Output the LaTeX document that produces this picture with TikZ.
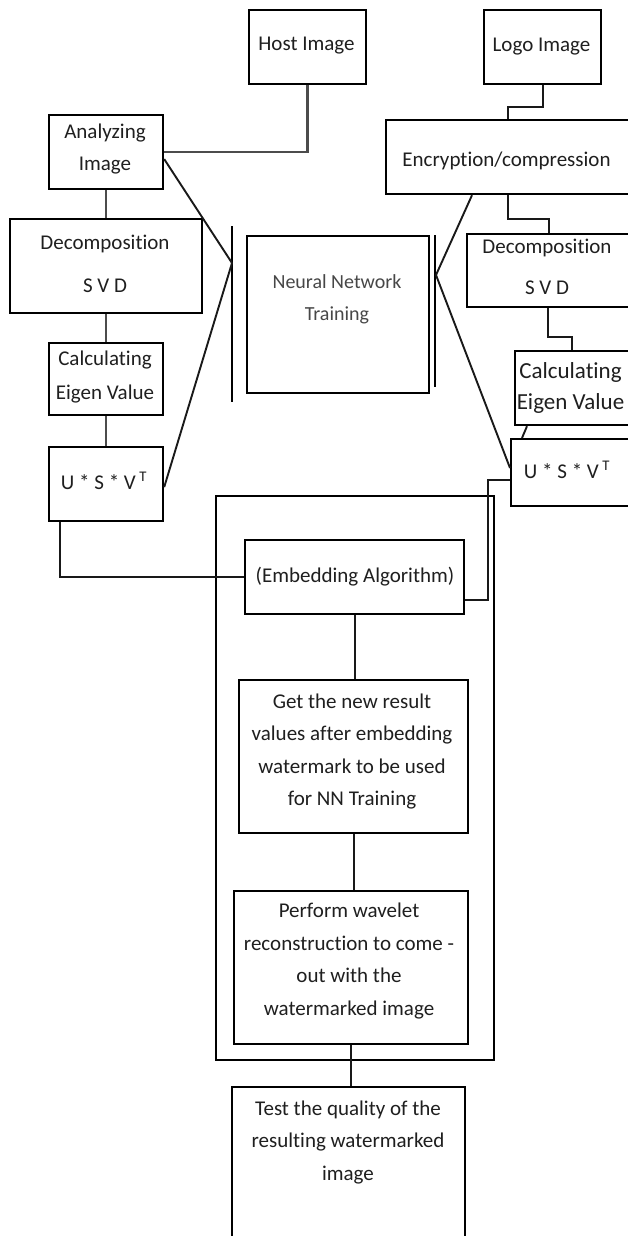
\documentclass[tikz,border=0pt]{standalone}
\usepackage{fontspec}
\setmainfont[Ligatures=CommonOff]{Carlito}
\usetikzlibrary{calc}
\tikzset{
  box/.style={draw=black, line width=2.2pt, inner sep=0pt, anchor=north west},
  txt/.style={align=center, inner sep=0pt, text=black!88, font=\fontsize{21}{32}\selectfont},
  wire/.style={draw=black!90, line width=1.9pt},
  bar/.style={draw=black, line width=2pt}
}
\begin{document}
\begin{tikzpicture}[x=1pt,y=-1pt]
\clip (0,0) rectangle (628,1236);
\fill[white] (0,0) rectangle (628,1236);

% outer container
\node[box, minimum width=278pt, minimum height=564pt] (outer) at (215,495) {};

% boxes
\node[box, minimum width=117pt, minimum height=74pt] (host) at (248,9) {};
\node[box, minimum width=117pt, minimum height=74pt] (logo) at (483,9) {};
\node[box, minimum width=114pt, minimum height=74pt] (anal) at (48,114) {};
\node[box, minimum width=192pt, minimum height=94pt] (decL) at (9,218) {};
\node[box, minimum width=114pt, minimum height=72pt] (calcL) at (48,342) {};
\node[box, minimum width=114pt, minimum height=74pt] (usvL) at (48,446) {};
\node[box, minimum width=182pt, minimum height=157pt] (nn) at (246,235) {};
\node[box, minimum width=260pt, minimum height=74pt] (enc) at (385,119) {};
\node[box, minimum width=180pt, minimum height=73pt] (decR) at (466,233) {};
\node[box, minimum width=130pt, minimum height=74pt] (calcR) at (514,350) {};
\node[box, minimum width=130pt, minimum height=67pt] (usvR) at (510,438) {};
\node[box, minimum width=219pt, minimum height=74pt] (emb) at (244,539) {};
\node[box, minimum width=229pt, minimum height=153pt] (get) at (238,679) {};
\node[box, minimum width=234pt, minimum height=153pt] (perf) at (233,890) {};
\node[box, minimum width=233pt, minimum height=170pt] (test) at (231,1086) {};

% texts
\node[txt] (thost) at (306.5,46) {Host Image};
\node[txt] (tlogo) at (541.5,47) {Logo Image};
\node[txt] (tanal) at (105,149) {Analyzing\\Image};
\node[txt, font=\fontsize{21}{43}\selectfont] (tdecL) at (105,264) {Decomposition\\S V D};
\node[txt, font=\fontsize{21}{34}\selectfont] (tcalcL) at (105,377) {Calculating\\Eigen Value};
\node[txt] (tusvL) at (104,481) {U * S * V\,\textsuperscript{T}};
\node[txt, text=black!72, font=\fontsize{20}{32}\selectfont] (tnn) at (337,299) {Neural Network\\Training};
\node[txt] (tenc) at (506.5,161) {Encryption/compression};
\node[txt, font=\fontsize{21}{41}\selectfont] (tdecR) at (547,266.5) {Decomposition\\S V D};
\node[txt, font=\fontsize{23}{31}\selectfont] (tcalcR) at (570.5,387.5) {Calculating\\Eigen Value};
\node[txt] (tusvR) at (567,470) {U * S * V\,\textsuperscript{T}};
\node[txt] (temb) at (355,577) {(Embedding Algorithm)};
\node[txt, font=\fontsize{21}{32.5}\selectfont] (tget) at (352,751.5) {Get the new result\\values after embedding\\watermark to be used\\for NN Training};
\node[txt, font=\fontsize{21}{32.7}\selectfont] (tperf) at (349,961) {Perform wavelet\\reconstruction to come -\\out with the\\watermarked image};
\node[txt, font=\fontsize{21}{32.5}\selectfont] (ttest) at (348,1142) {Test the quality of the\\resulting watermarked\\image};

% bars and convergence points
\coordinate (lp) at (232,263);
\coordinate (rp) at (436,275);
\coordinate (lbtop) at (232,226);
\coordinate (lbbot) at (232,402);
\coordinate (rbtop) at (435,235);
\coordinate (rbbot) at (435,387);
\draw[bar] (lbtop) -- (lbbot);
\draw[bar] (rbtop) -- (rbbot);

% left column connectors
\draw[wire, line width=2.6pt, draw=black!70] (host.south) |- (anal.east);
\draw[wire, draw=black!70, line width=2.4pt] (anal.south) -- (anal.south |- decL.north);
\draw[wire, draw=black!70, line width=2.4pt] (decL.south -| anal.south) -- (anal.south |- calcL.north);
\draw[wire, draw=black!70, line width=2.4pt] (calcL.south) -- (usvL.north);
\draw[wire] ([yshift=-7pt]anal.east) -- (lp);
\draw[wire] ([yshift=-3pt]usvL.east) -- (lp);
\draw[wire] ([xshift=12pt]usvL.south west) |- (emb.west);

% right column connectors
\draw[wire] (logo.south) -- ++(0,22) -| ([xshift=123pt]enc.north west);
\draw[wire] ([xshift=123pt]enc.south west) -- ++(0,24) -| ([xshift=83pt]decR.north west);
\draw[wire] ([xshift=82pt]decR.south west) -- ++(0,29) -| ([xshift=58pt]calcR.north west);
\draw[wire] ([xshift=13pt]calcR.south west) -- ([xshift=12pt]usvR.north west);
\draw[wire] ([xshift=87pt]enc.south west) -- (rp);
\draw[wire] (rp) -- ([yshift=-30pt]usvR.north west);
\draw[wire] ([yshift=-42pt]usvR.north west) -- ++(-22,0) |- ([yshift=-61pt]emb.north east);

% central chain
\draw[wire] (emb.south) -- (emb.south |- get.north);
\draw[wire] (get.south) -- (get.south |- perf.north);
\draw[wire] (perf.south) -- (perf.south |- test.north);
\end{tikzpicture}
\end{document}
